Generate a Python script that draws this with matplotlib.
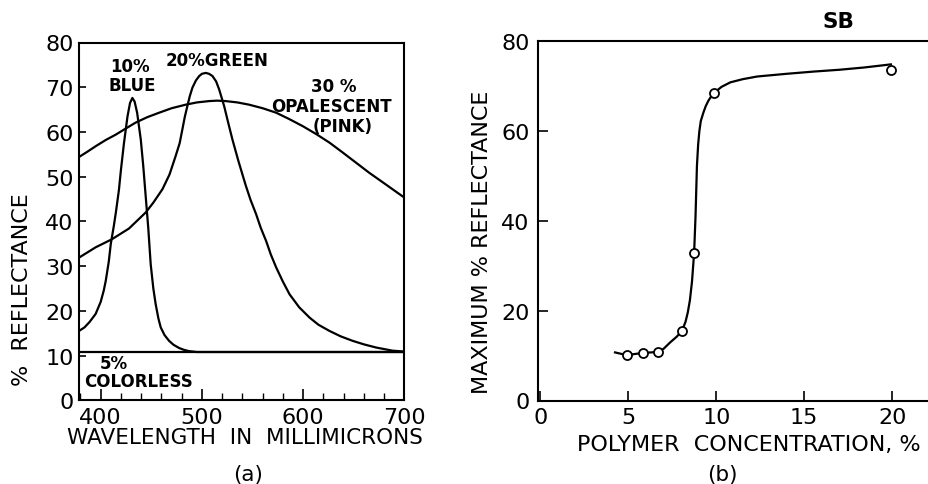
import matplotlib
matplotlib.use("Agg")
import matplotlib.pyplot as plt
from matplotlib.ticker import MultipleLocator

plt.rcParams["font.family"] = ["DejaVu Sans"]

# ---------------- (a) reflectance spectra ----------------
blue_nm = [378.6, 384, 389, 395, 400, 403, 405, 408, 410, 413, 415, 418, 420,
           423, 426.5, 429, 431.3, 433.5, 436, 439.6, 442, 444.5, 447, 449.4,
           452, 454.3, 457, 459.3, 463, 467.5, 472, 477.4, 482, 487, 495, 700]
blue_r = [15.5, 16.3, 17.5, 19.3, 22.0, 24.5, 26.7, 31.0, 35.0, 39.0, 42.0, 47.0,
          51.5, 57.5, 63.5, 66.5, 67.6, 66.8, 64.3, 58.3, 52.5, 45.5, 38.5, 30.4,
          25.0, 21.5, 18.3, 16.3, 14.6, 13.3, 12.4, 11.7, 11.3, 11.0, 10.8, 10.8]

green_nm = [378.6, 395, 411, 427.9, 444.5, 452, 461, 468, 474, 478, 480.7, 483,
            485.6, 488, 490.6, 494, 497.3, 500, 503.8, 507, 510.4, 514, 517,
            521.9, 526, 530.1, 536, 543.3, 548, 553.5, 558, 563.4, 568, 573.3,
            580, 586.5, 596, 606.2, 615, 626, 637, 648.7, 660, 672, 688, 700]
green_r = [31.9, 34.2, 36.0, 38.4, 42.0, 44.2, 47.2, 50.5, 54.6, 57.5, 60.6, 63.3,
           65.8, 68.0, 69.9, 71.5, 72.5, 73.0, 73.2, 73.0, 72.5, 71.3, 69.5,
           65.8, 62.0, 58.3, 53.5, 48.0, 44.8, 41.6, 38.6, 35.6, 32.6, 29.7,
           26.5, 23.7, 20.8, 18.5, 16.9, 15.5, 14.3, 13.3, 12.5, 11.8, 11.1, 10.9]

pink_nm = [378.6, 387, 395, 405, 414.9, 425, 434.6, 446, 457.7, 470, 484, 495,
           507, 515, 523.5, 535, 546.5, 560, 573.3, 586, 599.5, 613, 626, 639,
           652.3, 665, 678.8, 690, 700]
pink_r = [54.4, 55.6, 56.8, 58.2, 59.4, 60.8, 62.1, 63.3, 64.3, 65.3, 66.1, 66.6,
          66.9, 67.0, 66.9, 66.6, 66.1, 65.3, 64.3, 62.9, 61.3, 59.5, 57.6, 55.4,
          53.1, 50.9, 48.7, 46.9, 45.3]

colorless_nm = [378.6, 700]
colorless_r = [10.8, 10.8]

wave_ticks = [400, 500, 600, 700]
refl_ticks = [0, 10, 20, 30, 40, 50, 60, 70, 80]

# ---------------- (b) maximum reflectance vs concentration ----------------
conc_pts = [4.9, 5.85, 6.7, 8.05, 8.75, 9.86, 19.93]
maxr_pts = [10.1, 10.6, 10.8, 15.5, 32.8, 68.4, 73.6]

conc_curve = [4.24, 4.9, 5.85, 6.7, 7.0, 7.37, 7.75, 8.05, 8.25, 8.38, 8.5,
              8.62, 8.74, 8.82, 8.9, 8.97, 9.04, 9.12, 9.27, 9.4, 9.55, 9.7,
              9.86, 10.3, 10.8, 11.5, 12.33, 14.0, 15.55, 17.0, 18.4, 19.5, 19.93]
maxr_curve = [10.7, 10.1, 10.6, 10.8, 11.5, 12.9, 14.2, 15.5, 17.5, 19.6, 22.3,
              26.5, 32.8, 41.0, 52.2, 57.0, 60.0, 62.2, 64.1, 65.5, 66.7, 67.6,
              68.4, 69.8, 70.8, 71.5, 72.1, 72.7, 73.2, 73.6, 74.1, 74.6, 74.8]

conc_ticks = [0, 5, 10, 15, 20]
maxr_ticks = [0, 20, 40, 60, 80]

W, H = 929, 485
fig = plt.figure(figsize=(W / 100, H / 100), dpi=100)


def box(x0, y0, x1, y1):
    return [x0 / W, 1 - y1 / H, (x1 - x0) / W, (y1 - y0) / H]


LW = 1.6
TICK_FS = 16
LABEL_FS = 15.5
NOTE_FS = 12

# ----- panel (a)
ax1 = fig.add_axes(box(79, 43.5, 404.5, 401.3))
ax1.plot(blue_nm, blue_r, color="black", lw=LW)
ax1.plot(green_nm, green_r, color="black", lw=LW)
ax1.plot(pink_nm, pink_r, color="black", lw=LW)
ax1.plot(colorless_nm, colorless_r, color="black", lw=LW)
ax1.set_xlim(378.6, 700)
ax1.set_ylim(0, 80)
ax1.set_xticks(wave_ticks)
ax1.set_yticks(refl_ticks)
ax1.xaxis.set_minor_locator(MultipleLocator(20))
ax1.tick_params(axis="x", which="major", direction="in", length=8, width=1.2,
                labelsize=TICK_FS, pad=5)
ax1.tick_params(axis="x", which="minor", direction="in", length=5, width=1.0)
ax1.tick_params(axis="y", which="major", direction="in", length=5, width=1.2,
                labelsize=TICK_FS, pad=4)
for s in ax1.spines.values():
    s.set_linewidth(1.5)

ax1.text(429, 74.7, "10%", ha="center", va="center", fontsize=NOTE_FS, fontweight="bold")
ax1.text(431, 70.4, "BLUE", ha="center", va="center", fontsize=NOTE_FS, fontweight="bold")
ax1.text(515, 76.0, "20%GREEN", ha="center", va="center", fontsize=NOTE_FS, fontweight="bold")
ax1.text(630, 70.2, "30 %", ha="center", va="center", fontsize=NOTE_FS, fontweight="bold")
ax1.text(628, 65.9, "OPALESCENT", ha="center", va="center", fontsize=NOTE_FS, fontweight="bold")
ax1.text(639, 61.4, "(PINK)", ha="center", va="center", fontsize=NOTE_FS, fontweight="bold")
ax1.text(413, 8.3, "5%", ha="center", va="center", fontsize=NOTE_FS, fontweight="bold")
ax1.text(437.6, 4.3, "COLORLESS", ha="center", va="center", fontsize=NOTE_FS, fontweight="bold")

fig.text(245 / W, 1 - 438 / H, "WAVELENGTH  IN  MILLIMICRONS", ha="center", va="center",
         fontsize=LABEL_FS)
fig.text(248 / W, 1 - 475 / H, "(a)", ha="center", va="center", fontsize=LABEL_FS)
fig.text(22 / W, 1 - 290 / H, "%  REFLECTANCE", ha="center", va="center",
         rotation=90, fontsize=LABEL_FS + 0.5)

# ----- panel (b)
ax2 = fig.add_axes(box(538, 42, 929, 401.5))
ax2.plot(conc_curve, maxr_curve, color="black", lw=LW)
ax2.plot(conc_pts, maxr_pts, linestyle="none", marker="o", markersize=6.5,
         markerfacecolor="white", markeredgecolor="black", markeredgewidth=1.3)
ax2.set_xlim(-0.14, 22.1)
ax2.set_ylim(0, 80)
ax2.set_xticks(conc_ticks)
ax2.set_yticks(maxr_ticks)
ax2.tick_params(axis="both", which="major", direction="in", length=7, width=1.2,
                labelsize=TICK_FS)
ax2.tick_params(axis="x", pad=5)
ax2.tick_params(axis="y", pad=6)
ax2.spines["right"].set_visible(False)
for s in ax2.spines.values():
    s.set_linewidth(1.5)

fig.text(838 / W, 1 - 22 / H, "SB", ha="center", va="center", fontsize=LABEL_FS,
         fontweight="bold")
fig.text(749 / W, 1 - 445 / H, "POLYMER  CONCENTRATION, %", ha="center", va="center",
         fontsize=LABEL_FS + 0.5)
fig.text(722 / W, 1 - 475 / H, "(b)", ha="center", va="center", fontsize=LABEL_FS)
fig.text(482 / W, 1 - 242 / H, "MAXIMUM % REFLECTANCE", ha="center", va="center",
         rotation=90, fontsize=LABEL_FS + 0.5)

fig.savefig("out.png", dpi=100, facecolor="white")
